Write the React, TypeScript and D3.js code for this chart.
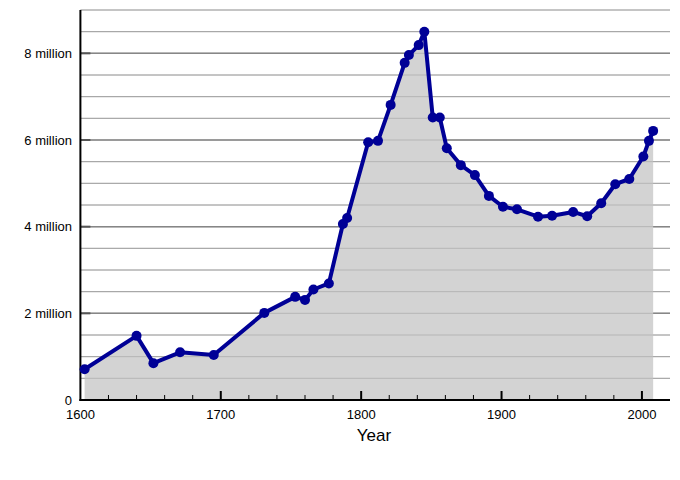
import * as d3 from "d3";

// Population of Ireland
const years = [
  1603, 1640, 1652, 1671, 1695, 1731, 1753, 1760, 1766, 1777,
  1787, 1790, 1805, 1812, 1821, 1831, 1834, 1841, 1845, 1851,
  1856, 1861, 1871, 1881, 1891, 1901, 1911, 1926, 1936, 1951,
  1961, 1971, 1981, 1991, 2001, 2005, 2008,
];
const population = [
  0.71, 1.48, 0.85, 1.1, 1.04, 2.01, 2.38, 2.31, 2.55, 2.69,
  4.06, 4.2, 5.95, 5.98, 6.81, 7.78, 7.96, 8.19, 8.5, 6.52,
  6.52, 5.81, 5.42, 5.19, 4.71, 4.46, 4.4, 4.23, 4.25, 4.34,
  4.24, 4.54, 4.98, 5.1, 5.62, 5.98, 6.21,
];
const yLabelTicks = [0, 2, 4, 6, 8];
const xLabelTicks = [1600, 1700, 1800, 1900, 2000];

const W = 680;
const H = 480;
const left = 80.4;
const right = 670;
const top = 10;
const bottom = 400;

export default function App() {
  const x = d3.scaleLinear().domain([1600, 2020]).range([left, right]);
  const y = d3.scaleLinear().domain([0, 9]).range([bottom, top]);

  const pts = years.map((yr, i) => ({ yr, v: population[i] }));

  const line = d3
    .line<{ yr: number; v: number }>()
    .x((d) => x(d.yr))
    .y((d) => y(d.v));
  const area = d3
    .area<{ yr: number; v: number }>()
    .x((d) => x(d.yr))
    .y0(y(0))
    .y1((d) => y(d.v));

  const gridVals = d3.range(0.5, 9.01, 0.5);
  const minorX = d3.range(1620, 2020, 20).filter((v) => v % 100 !== 0);

  return (
    <svg
      width={W}
      height={H}
      style={{ position: "absolute", left: 0, top: 0, background: "#fff" }}
      fontFamily="'Liberation Sans', Arial, sans-serif"
    >
      {/* horizontal grid */}
      {gridVals.map((v) => {
        const major = Math.abs(v % 2) < 1e-9;
        return (
          <line
            key={v}
            x1={left}
            x2={right}
            y1={y(v)}
            y2={y(v)}
            stroke={major ? "#7a7a7a" : "#a8a8a8"}
            strokeWidth={major ? 1.5 : 1}
          />
        );
      })}

      <path d={area(pts) ?? ""} fill="#d3d3d3" />

      {/* grid drawn again faintly over the fill */}
      {gridVals.map((v) => (
        <line
          key={"o" + v}
          x1={left}
          x2={right}
          y1={y(v)}
          y2={y(v)}
          stroke="#9a9a9a"
          strokeOpacity={0.5}
          strokeWidth={1}
        />
      ))}

      {/* y major ticks */}
      {yLabelTicks.slice(1).map((v) => (
        <line key={"yt" + v} x1={left} x2={left + 10} y1={y(v)} y2={y(v)} stroke="#555" strokeWidth={2} />
      ))}

      {/* x ticks */}
      {xLabelTicks.slice(1).map((v) => (
        <line key={"xt" + v} x1={x(v)} x2={x(v)} y1={bottom} y2={bottom - 9} stroke="#000" strokeWidth={2} />
      ))}
      {minorX.map((v) => (
        <line key={"xm" + v} x1={x(v)} x2={x(v)} y1={bottom} y2={bottom - 5} stroke="#000" strokeWidth={1} />
      ))}

      {/* axes */}
      <line x1={left} x2={left} y1={top} y2={bottom + 1} stroke="#000" strokeWidth={2} />
      <line x1={left - 1} x2={right} y1={bottom} y2={bottom} stroke="#000" strokeWidth={2} />

      <path d={line(pts) ?? ""} fill="none" stroke="#000096" strokeWidth={4} strokeLinejoin="round" />
      {pts.map((d) => (
        <circle key={d.yr} cx={x(d.yr)} cy={y(d.v)} r={5} fill="#000096" />
      ))}

      {/* labels */}
      {yLabelTicks.map((v) => (
        <text key={"yl" + v} x={72} y={y(v)} dy="0.35em" textAnchor="end" fontSize={13} fill="#000">
          {v === 0 ? "0" : `${v} million`}
        </text>
      ))}
      {xLabelTicks.map((v) => (
        <text key={"xl" + v} x={x(v)} y={419} textAnchor="middle" fontSize={13} fill="#000">
          {v}
        </text>
      ))}
      <text x={374} y={441} textAnchor="middle" fontSize={17} fill="#000">
        Year
      </text>
    </svg>
  );
}
